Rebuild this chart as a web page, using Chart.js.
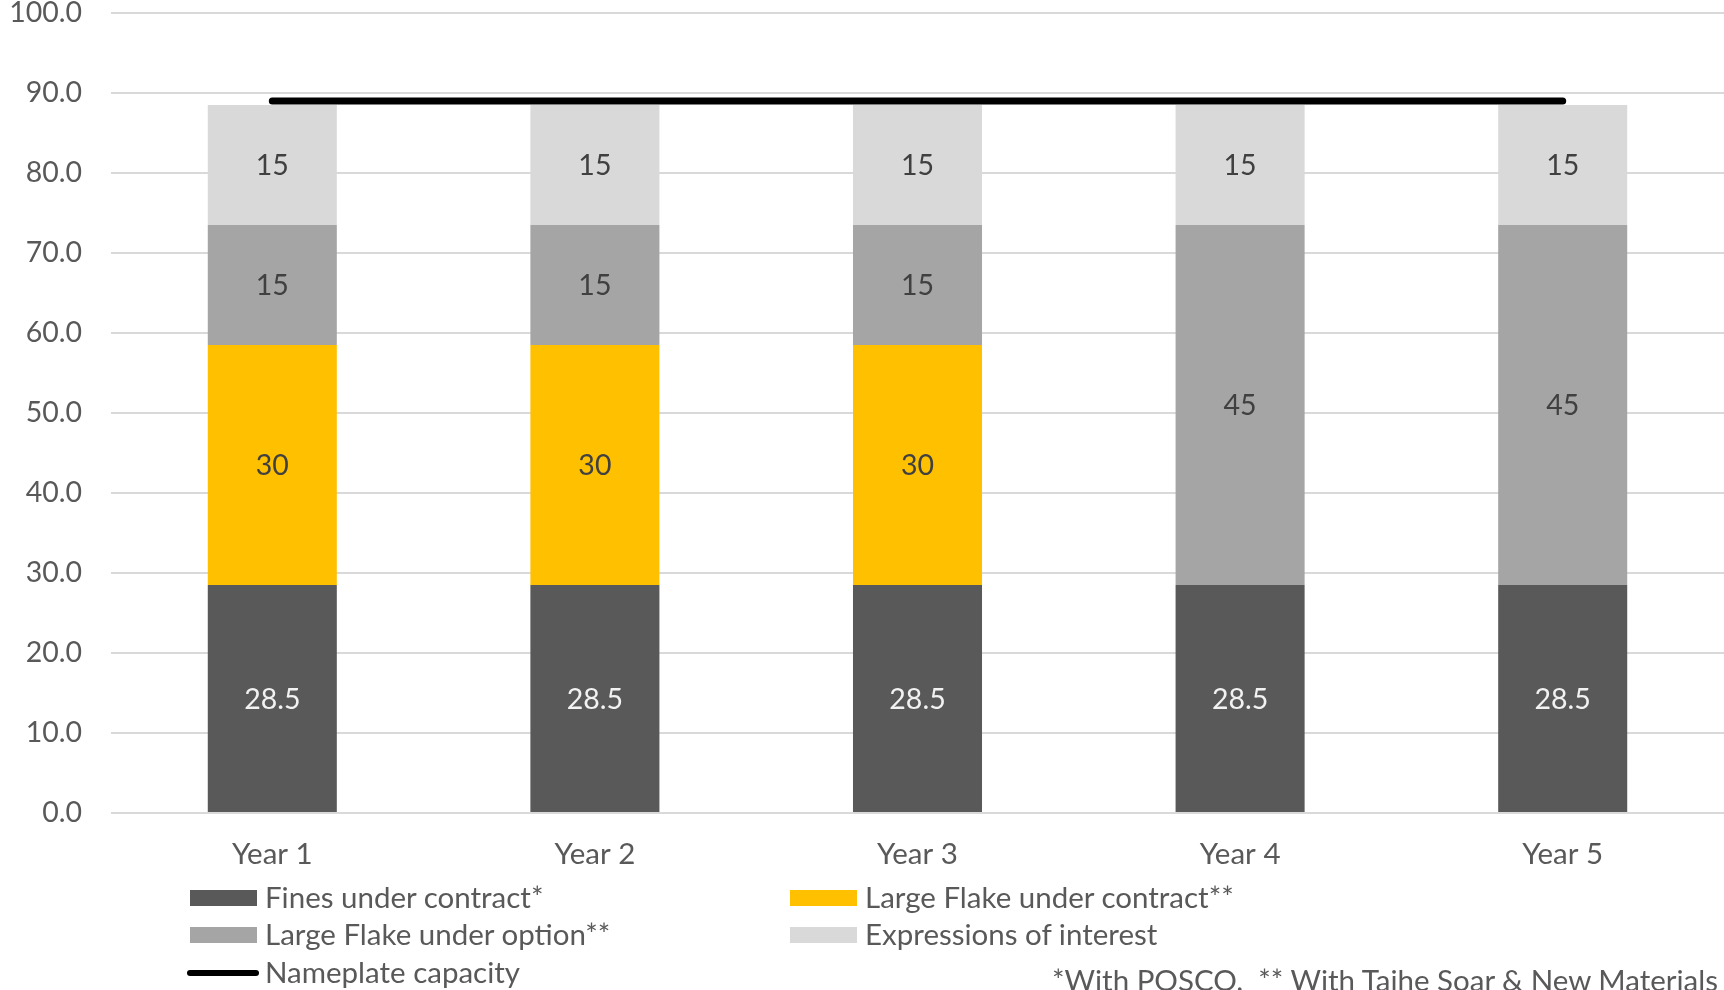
<!DOCTYPE html>
<html>
<head>
<meta charset="utf-8">
<script src="https://cdn.jsdelivr.net/npm/chart.js@4.4.0/dist/chart.umd.min.js"></script>
<style>
  html, body { margin: 0; padding: 0; background: #fff; overflow: hidden; }
  #wrap { position: relative; width: 1724px; height: 990px; overflow: hidden; font-family: Lato, "Open Sans", sans-serif; color: #595959; }
  #legend .item { position: absolute; font-size: 29.5px; line-height: 32px; white-space: nowrap; }
  #legend .swatch { position: absolute; left: -75px; top: 9px; width: 67px; height: 16px; }
  #legend .swatch.line { height: 6px; top: 14px; border-radius: 3px; left: -78px; width: 72px; }
  #note { position: absolute; left: 1052px; top: 962px; font-size: 29.5px; white-space: nowrap; }
</style>
</head>
<body>
<div id="wrap">
  <canvas id="capacityChart" width="1724" height="990"></canvas>
  <div id="legend"></div>
  <div id="note">*With POSCO.&nbsp; ** With Taihe Soar &amp; New Materials</div>
</div>
<script>
// categories
const years = ["Year 1", "Year 2", "Year 3", "Year 4", "Year 5"];

// series values
const fines = [28.5, 28.5, 28.5, 28.5, 28.5];
const flakeContract = [30, 30, 30, 0, 0];
const flakeOption = [15, 15, 15, 45, 45];
const interest = [15, 15, 15, 15, 15];
const nameplate = [89, 89, 89, 89, 89];

// series names
const seriesNames = [
  "Fines under contract*",
  "Large Flake under contract**",
  "Large Flake under option**",
  "Expressions of interest",
  "Nameplate capacity",
];

const data = {
  labels: years,
  datasets: [
    { label: seriesNames[0], data: fines, backgroundColor: "#595959", labelColor: "#f2f2f2", order: 1 },
    { label: seriesNames[1], data: flakeContract, backgroundColor: "#ffc000", labelColor: "#404040", order: 1 },
    { label: seriesNames[2], data: flakeOption, backgroundColor: "#a5a5a5", labelColor: "#404040", order: 1 },
    { label: seriesNames[3], data: interest, backgroundColor: "#d9d9d9", labelColor: "#404040", order: 1 },
    {
      type: "line",
      label: seriesNames[4],
      data: nameplate,
      borderColor: "#000000",
      borderWidth: 7,
      borderCapStyle: "round",
      pointRadius: 0,
      stack: "cap",
      order: 0,
    },
  ],
};

// draws the numbers inside each bar segment
const barLabels = {
  id: "barLabels",
  afterDatasetsDraw(chart) {
    const ctx = chart.ctx;
    ctx.save();
    ctx.font = "28.5px Lato";
    ctx.textAlign = "center";
    ctx.textBaseline = "middle";
    chart.data.datasets.forEach((ds, i) => {
      if (ds.type === "line") return;
      chart.getDatasetMeta(i).data.forEach((bar, j) => {
        const v = ds.data[j];
        if (!v) return;
        ctx.fillStyle = ds.labelColor;
        ctx.fillText(String(v), bar.x, (bar.y + bar.base) / 2 + 1);
      });
    });
    ctx.restore();
  },
};

const config = {
  type: "bar",
  data: data,
  options: {
    responsive: false,
    animation: false,
    layout: { padding: { top: 13, right: 0, left: 0, bottom: 0 } },
    datasets: { bar: { barPercentage: 0.4, categoryPercentage: 1 } },
    plugins: {
      legend: { display: false },
      tooltip: { enabled: false },
    },
    scales: {
      x: {
        stacked: true,
        grid: { display: false },
        border: { display: false },
        ticks: { color: "#595959", font: { family: "Lato", size: 29.5 }, padding: 16 },
        afterFit: (scale) => { scale.height = 177; },
      },
      y: {
        stacked: true,
        min: 0,
        max: 100,
        grid: { color: "#d9d9d9", lineWidth: 2, drawTicks: false },
        border: { display: false },
        ticks: {
          stepSize: 10,
          color: "#595959",
          font: { family: "Lato", size: 28.5 },
          padding: 29,
          callback: (v) => v.toFixed(1),
        },
        afterFit: (scale) => {
          scale.width = 111;
          scale.paddingTop = 0;
          scale.paddingBottom = 0;
        },
      },
    },
  },
  plugins: [barLabels],
};

const chart = new Chart(document.getElementById("capacityChart"), config);

// legend in two columns, built from the datasets
const legendSpots = [[265, 881], [865, 881], [265, 918], [865, 918], [265, 956]];
const legendEl = document.getElementById("legend");
data.datasets.forEach((ds, i) => {
  const item = document.createElement("div");
  item.className = "item";
  item.style.left = legendSpots[i][0] + "px";
  item.style.top = legendSpots[i][1] + "px";
  const sw = document.createElement("span");
  sw.className = ds.type === "line" ? "swatch line" : "swatch";
  sw.style.background = ds.type === "line" ? ds.borderColor : ds.backgroundColor;
  item.appendChild(sw);
  item.appendChild(document.createTextNode(ds.label));
  legendEl.appendChild(item);
});
</script>
</body>
</html>
